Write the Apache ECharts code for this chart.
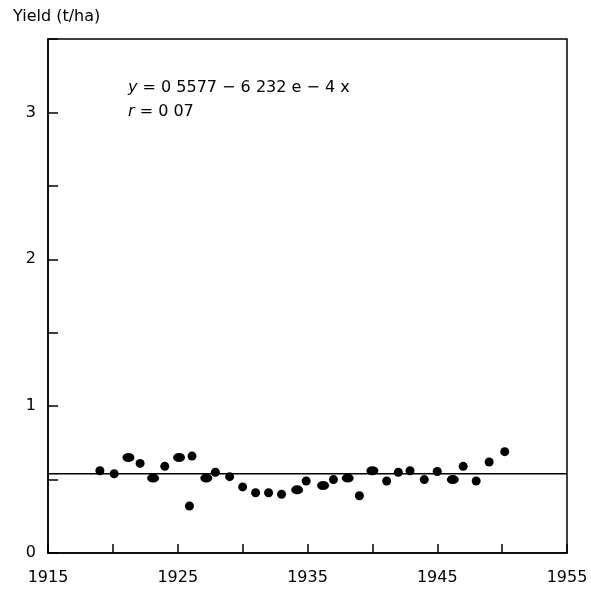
<!DOCTYPE html>
<html>
<head>
<meta charset="utf-8">
<script src="https://cdn.jsdelivr.net/npm/echarts@6/dist/echarts.min.js"></script>
<style>html,body{margin:0;padding:0;background:#fff}#c{width:591px;height:590px}</style>
</head>
<body>
<div id="c"></div>
<script>
const years = [1919.0,1920.1,1921.2,1922.1,1923.1,1924.0,1925.1,1925.9,1926.1,1927.2,1927.9,1929.0,1930.0,1931.0,1932.0,1933.0,1934.2,1934.9,1936.2,1937.0,1938.1,1939.0,1940.0,1941.1,1942.0,1942.9,1944.0,1945.0,1946.2,1947.0,1948.0,1949.0,1950.2];
const yields = [0.56,0.54,0.65,0.61,0.51,0.59,0.65,0.32,0.66,0.51,0.55,0.52,0.45,0.41,0.41,0.40,0.43,0.49,0.46,0.50,0.51,0.39,0.56,0.49,0.55,0.56,0.50,0.555,0.50,0.59,0.49,0.62,0.69];
const fitYears = [1915, 1955];
const fitValues = [0.54, 0.54];
const xLabelYears = [1915, 1925, 1935, 1945, 1955];
const yLabelValues = [0, 1, 2, 3];
const yAxisTitle = 'Yield (t/ha)';
const equationText = '= 0 5577 − 6 232 e − 4 x';
const rText = '= 0 07';

const wideIdx = new Set([2,4,6,9,16,18,20,22,28]);
const font = 'DejaVu Sans';
const chart = echarts.init(document.getElementById('c'));
chart.setOption({
  animation: false,
  backgroundColor: '#fff',
  grid: {left: 48, right: 24, top: 39, bottom: 37, show: true, borderColor: '#000', borderWidth: 1.5},
  xAxis: {
    type: 'value', min: 1915, max: 1955, interval: 5,
    axisLine: {show: true, lineStyle: {color: '#000', width: 1.5}},
    axisTick: {show: true, inside: true, length: 9, lineStyle: {color: '#000', width: 1.5}},
    splitLine: {show: false},
    axisLabel: {margin: 17, color: '#000', fontFamily: font, fontSize: 16,
      formatter: v => xLabelYears.includes(Math.round(v)) ? String(Math.round(v)) : ''}
  },
  yAxis: {
    type: 'value', min: 0, max: 3.5, interval: 0.5,
    axisLine: {show: true, lineStyle: {color: '#000', width: 1.5}},
    axisTick: {show: true, inside: true, length: 10, lineStyle: {color: '#000', width: 1.5}},
    splitLine: {show: false},
    axisLabel: {margin: 12, color: '#000', fontFamily: font, fontSize: 16,
      formatter: v => yLabelValues.includes(v) ? String(v) : ''}
  },
  graphic: [
    {type: 'text', left: 13, top: 9, style: {text: yAxisTitle, font: '16px "DejaVu Sans"', fill: '#000'}},
    {type: 'text', left: 128, top: 80, style: {
      text: '{i|y} ' + equationText,
      rich: {i: {fontStyle: 'italic', fontFamily: font, fontSize: 16}},
      font: '16px "DejaVu Sans"', fill: '#000'}},
    {type: 'text', left: 128, top: 104, style: {
      text: '{i|r} ' + rText,
      rich: {i: {fontStyle: 'italic', fontFamily: font, fontSize: 16}},
      font: '16px "DejaVu Sans"', fill: '#000'}}
  ],
  series: [
    {type: 'line', data: fitYears.map((y, i) => [y, fitValues[i]]), symbol: 'none',
      lineStyle: {color: '#000', width: 1.5}, z: 2},
    {type: 'scatter', data: years.map((y, i) => [y, yields[i]]),
      symbolSize: (v, p) => wideIdx.has(p.dataIndex) ? [12, 9] : 9,
      itemStyle: {color: '#000', opacity: 1}, z: 3}
  ]
});
</script>
</body>
</html>
